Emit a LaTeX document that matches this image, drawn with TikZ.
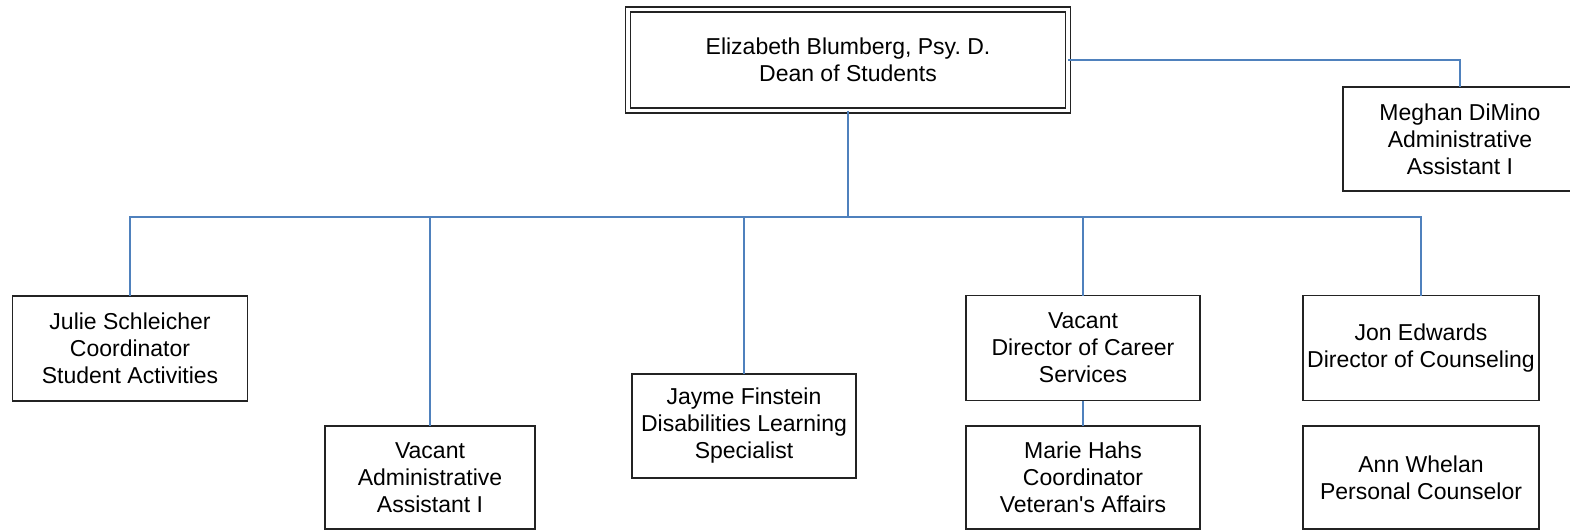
\documentclass[tikz,border=0pt]{standalone}
\usepackage{fontspec}
\setmainfont{Liberation Sans}
\frenchspacing
\definecolor{linkblue}{RGB}{79,129,189}
\definecolor{boxline}{RGB}{35,35,35}
\begin{document}
\begin{tikzpicture}[x=1pt,y=-1pt,
  box/.style={draw=boxline, line width=1.6pt, fill=white, align=center,
    inner sep=0pt, outer sep=0pt, font=\fontsize{23}{27}\selectfont},
  deanbox/.style={box, double, double distance=3.4pt, line width=1.5pt},
  conn/.style={draw=linkblue, line width=1.5pt}]
\useasboundingbox (0,0) rectangle (1570,530);

% dean and direct assistant
\node[deanbox, minimum width=440pt, minimum height=101pt] (dean) at (848,60)
  {Elizabeth Blumberg, Psy. D.\\Dean of Students};
\node[box, minimum width=234pt, minimum height=104pt] (meghan) at (1460,139)
  {Meghan DiMino\\Administrative\\Assistant I};

% staff row
\node[box, minimum width=235pt, minimum height=105pt] (julie) at (130,348.5)
  {Julie Schleicher\\Coordinator\\Student Activities};
\node[box, minimum width=210pt, minimum height=103pt] (admin) at (430,477.5)
  {Vacant\\Administrative\\Assistant I};
\node[box, minimum width=224pt, minimum height=104pt] (jayme) at (744,426)
  {Jayme Finstein\\Disabilities Learning\\Specialist};
\node[box, minimum width=234pt, minimum height=105pt] (career) at (1083,348)
  {Vacant\\Director of Career\\Services};
\node[box, minimum width=234pt, minimum height=103pt] (marie) at (1083,477.5)
  {Marie Hahs\\Coordinator\\Veteran\textquotesingle s Affairs};
\node[box, minimum width=236pt, minimum height=105pt] (jon) at (1421,348)
  {Jon Edwards\\Director of Counseling};
\node[box, minimum width=236pt, minimum height=103pt] (ann) at (1421,477.5)
  {Ann Whelan\\Personal Counselor};

% connectors
\coordinate (bus) at (848,217);
\draw[conn] (dean.east) -| (meghan.north);
\draw[conn] (dean.south) -- (bus);
\draw[conn] (julie.north) |- (bus) -| (jon.north);
\draw[conn] (admin.north) -- (admin.north |- bus);
\draw[conn] (jayme.north) -- (jayme.north |- bus);
\draw[conn] (career.north) -- (career.north |- bus);
\draw[conn] (career.south) -- (marie.north);
\end{tikzpicture}
\end{document}
